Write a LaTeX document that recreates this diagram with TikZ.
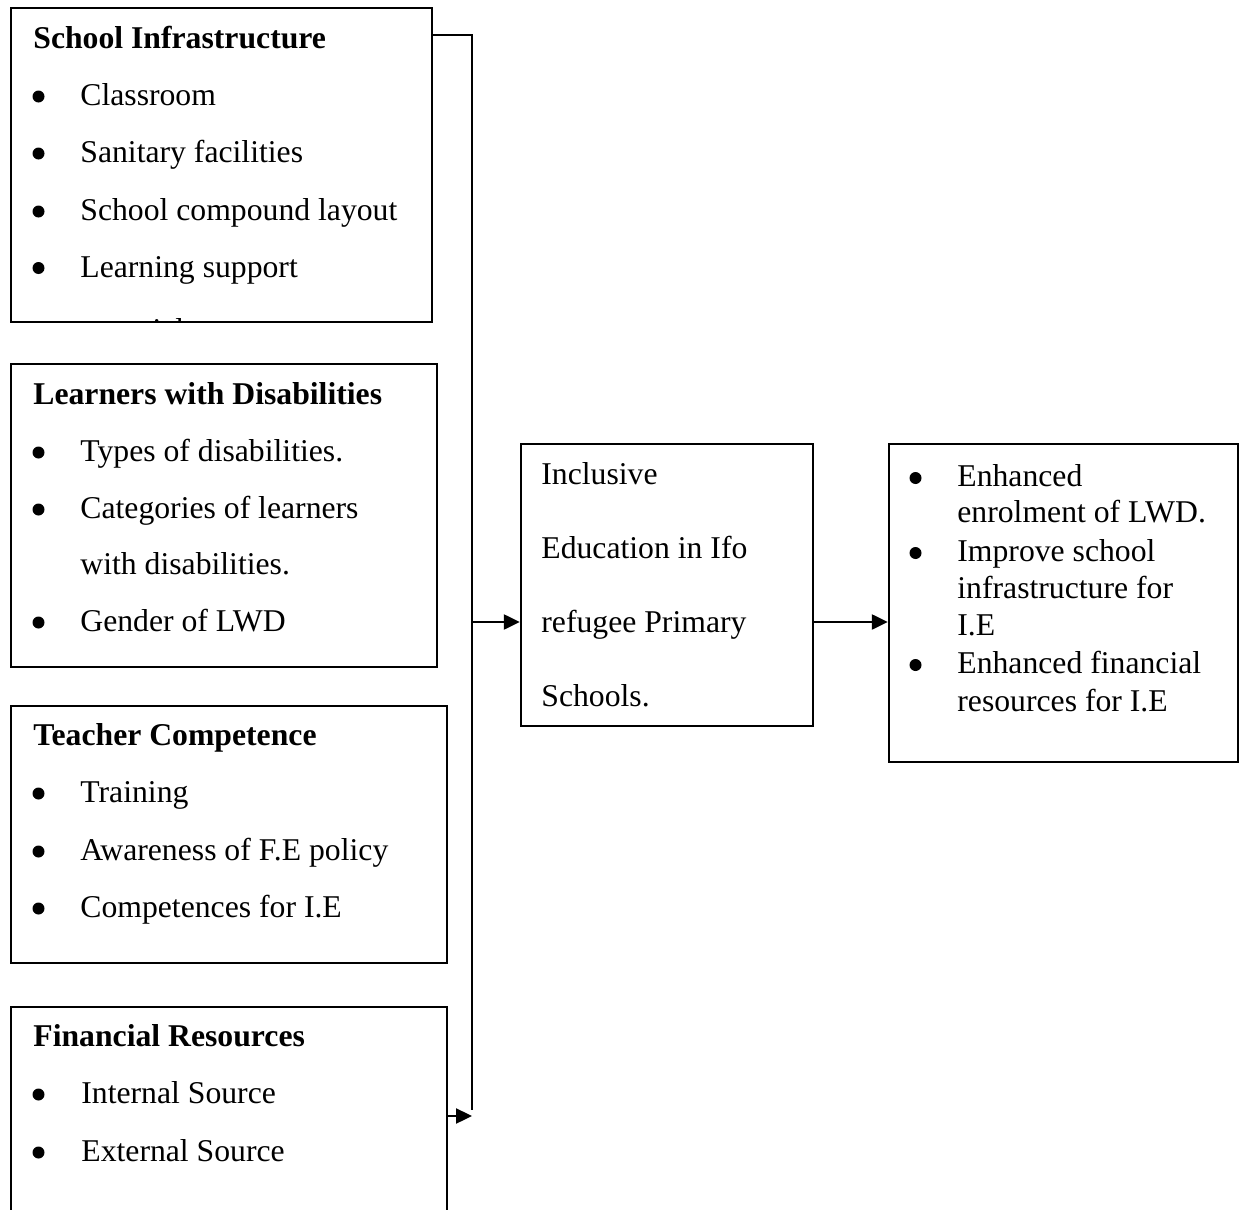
\documentclass[tikz,border=0pt]{standalone}
\usepackage{fontspec}
\setmainfont{Liberation Serif}
\usetikzlibrary{fit,arrows.meta}
\begin{document}
\begin{tikzpicture}[x=0.5pt,y=-0.5pt,
  box/.style={draw,line width=1.2pt,inner sep=0pt},
  txt/.style={anchor=base west,inner sep=0pt,font=\fontsize{15.85pt}{19pt}\selectfont},
  ttl/.style={txt,font=\fontsize{15.85pt}{19pt}\selectfont\bfseries},
  link/.style={line width=1.2pt},
  arr/.style={line width=1.2pt,-{Triangle[length=8pt,width=7.5pt]}}]
\useasboundingbox (0,0) rectangle (1239,1210);
\clip (0,0) rectangle (1239,1210);
% boxes
\node[box,fit={(11,8)(432,322)}] (b1) {};
\node[box,fit={(11,364)(437,667)}] (b2) {};
\node[box,fit={(11,706)(447,963)}] (b3) {};
\node[box,fit={(11,1007)(447,1260)}] (b4) {};
\node[box,fit={(521,444)(813,726)}] (mid) {};
\node[box,fit={(889,444)(1238,762)}] (out) {};
% box 1
\node[ttl] (t11) at (33,48.5) {School Infrastructure};
\node[txt] (t12) at (80,105.5) {Classroom};
\node[txt] (t13) at (80,162.5) {Sanitary facilities};
\node[txt] (t14) at (80,220.5) {School compound layout};
\node[txt] (t15) at (80,277) {Learning support};
\begin{scope}
\clip (12,9) rectangle (431,321);
\node[txt] (t16) at (80,340.5) {materials};
\end{scope}
\foreach \y in {105.5,162.5,220.5,277} \fill (38.5,\y-9) circle[radius=3pt];
% box 2
\node[ttl] (t21) at (33,404.5) {Learners with Disabilities};
\node[txt] (t22) at (80,461.5) {Types of disabilities.};
\node[txt] (t23) at (80,518.5) {Categories of learners};
\node[txt] (t24) at (80,574.5) {with disabilities.};
\node[txt] (t25) at (80,631.5) {Gender of LWD};
\foreach \y in {461.5,518.5,631.5} \fill (38.5,\y-9) circle[radius=3pt];
% box 3
\node[ttl] (t31) at (33,745.5) {Teacher Competence};
\node[txt] (t32) at (80,802.5) {Training};
\node[txt] (t33) at (80,860.5) {Awareness of F.E policy};
\node[txt] (t34) at (80,917.5) {Competences for I.E};
\foreach \y in {802.5,860.5,917.5} \fill (38.5,\y-9) circle[radius=3pt];
% box 4
\node[ttl] (t41) at (33,1046.5) {Financial Resources};
\node[txt] (t42) at (81,1103.5) {Internal Source};
\node[txt] (t43) at (81,1161.5) {External Source};
\foreach \y in {1103.5,1161.5} \fill (38.5,\y-9) circle[radius=3pt];
% middle box
\node[txt] (m1) at (541,484) {Inclusive};
\node[txt] (m2) at (541,558) {Education in Ifo};
\node[txt] (m3) at (541,632) {refugee Primary};
\node[txt] (m4) at (541,706) {Schools.};
% output box
\node[txt] (o1) at (957,486) {Enhanced};
\node[txt] (o2) at (957,522) {enrolment of LWD.};
\node[txt] (o3) at (957,561) {Improve school};
\node[txt] (o4) at (957,598) {infrastructure for};
\node[txt] (o5) at (957,635) {I.E};
\node[txt] (o6) at (957,673) {Enhanced financial};
\node[txt] (o7) at (957,711) {resources for I.E};
\foreach \y in {486,561,673} \fill (915.5,\y-8) circle[radius=3pt];
% connectors
\coordinate (bustop) at (472,35);
\coordinate (busbot) at (472,1110);
\coordinate (busarr) at (472,1116);
\coordinate (busmid) at (472,622);
\draw[link] (b1.east |- bustop) -- (bustop) -- (busbot);
\draw[arr] (b4.east |- busarr) -- (busarr);
\draw[arr] (busmid) -- (mid.west |- busmid);
\draw[arr] (mid.east |- busmid) -- (out.west |- busmid);
\end{tikzpicture}
\end{document}
